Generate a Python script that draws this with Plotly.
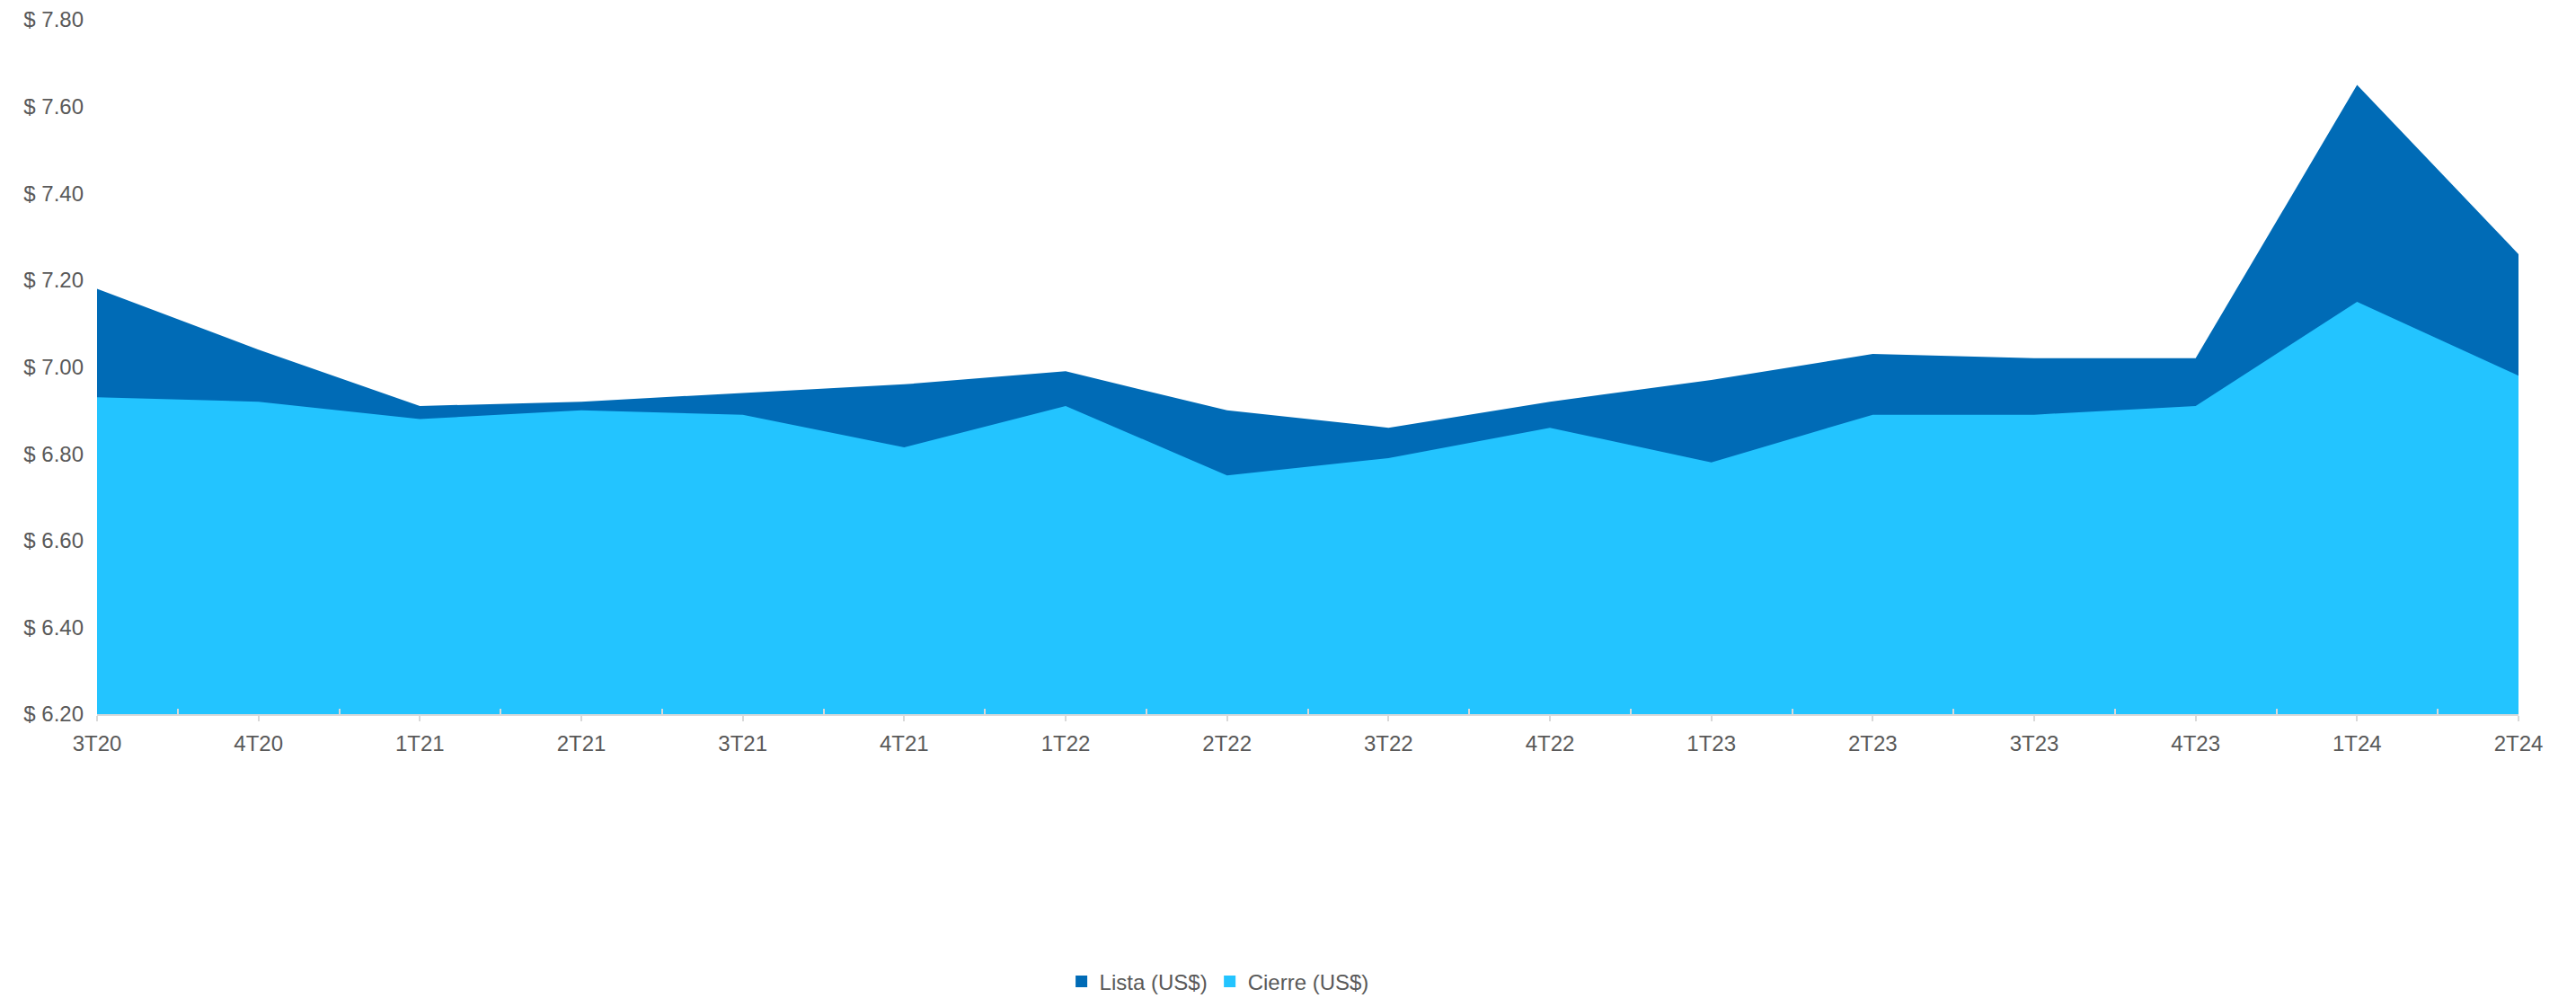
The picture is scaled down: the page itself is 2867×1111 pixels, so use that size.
import plotly.graph_objects as go

# Quarterly exchange rates (US$)
quarters = ["3T20", "4T20", "1T21", "2T21", "3T21", "4T21", "1T22", "2T22",
            "3T22", "4T22", "1T23", "2T23", "3T23", "4T23", "1T24", "2T24"]
lista = [7.18, 7.04, 6.91, 6.92, 6.94, 6.96, 6.99, 6.90,
         6.86, 6.92, 6.97, 7.03, 7.02, 7.02, 7.65, 7.26]
cierre = [6.93, 6.92, 6.88, 6.90, 6.89, 6.815, 6.91, 6.75,
          6.79, 6.86, 6.78, 6.89, 6.89, 6.91, 7.15, 6.98]
y_ticks = [6.2, 6.4, 6.6, 6.8, 7.0, 7.2, 7.4, 7.6, 7.8]
y_labels = [f"$ {v:.2f}" for v in y_ticks]

DARK = "#006BB6"
LIGHT = "#23C4FF"
FONT = "Liberation Sans, Arial, sans-serif"
GREY_TEXT = "#595959"

x = list(range(len(quarters)))

fig = go.Figure()
fig.add_trace(go.Scatter(x=x, y=lista, mode="lines", fill="tozeroy",
                         line=dict(color=DARK, width=0), fillcolor=DARK,
                         showlegend=False, hoverinfo="skip"))
fig.add_trace(go.Scatter(x=x, y=cierre, mode="lines", fill="tozeroy",
                         line=dict(color=LIGHT, width=0), fillcolor=LIGHT,
                         showlegend=False, hoverinfo="skip"))

# legend entries drawn as square swatches
for name, col in [("Lista (US$)", DARK), ("Cierre (US$)", LIGHT)]:
    fig.add_trace(go.Scatter(x=[None], y=[None], mode="markers", name=name,
                             marker=dict(symbol="square", size=13, color=col)))

fig.update_layout(
    width=2867, height=1111,
    margin=dict(l=108, r=64, t=22, b=316, autoexpand=False),
    paper_bgcolor="white", plot_bgcolor="white",
    font=dict(family=FONT, size=24, color=GREY_TEXT),
    legend=dict(orientation="h", xref="container", x=0.473, xanchor="center",
                yref="container", y=0.0162, yanchor="middle",
                font=dict(size=24, color=GREY_TEXT),
                itemwidth=30, tracegroupgap=0),
)
fig.update_xaxes(
    range=[0, len(quarters) - 1],
    tickmode="array", tickvals=x, ticktext=quarters,
    showgrid=False, zeroline=False,
    showline=True, linecolor="#d9d9d9", linewidth=2,
    ticks="outside", ticklen=6, tickwidth=2, tickcolor="#d9d9d9",
    ticklabelstandoff=4,
    minor=dict(tick0=0.5, dtick=1, ticks="inside", ticklen=6,
               tickwidth=2, tickcolor="#d9d9d9", showgrid=False),
    tickfont=dict(size=24, color=GREY_TEXT),
)
fig.update_yaxes(
    range=[6.2, 7.8], tickmode="array", tickvals=y_ticks, ticktext=y_labels,
    showgrid=False, zeroline=False, showline=False, ticks="",
    ticklabelstandoff=14,
    tickfont=dict(size=24, color=GREY_TEXT),
)

fig.write_html("out.html")
